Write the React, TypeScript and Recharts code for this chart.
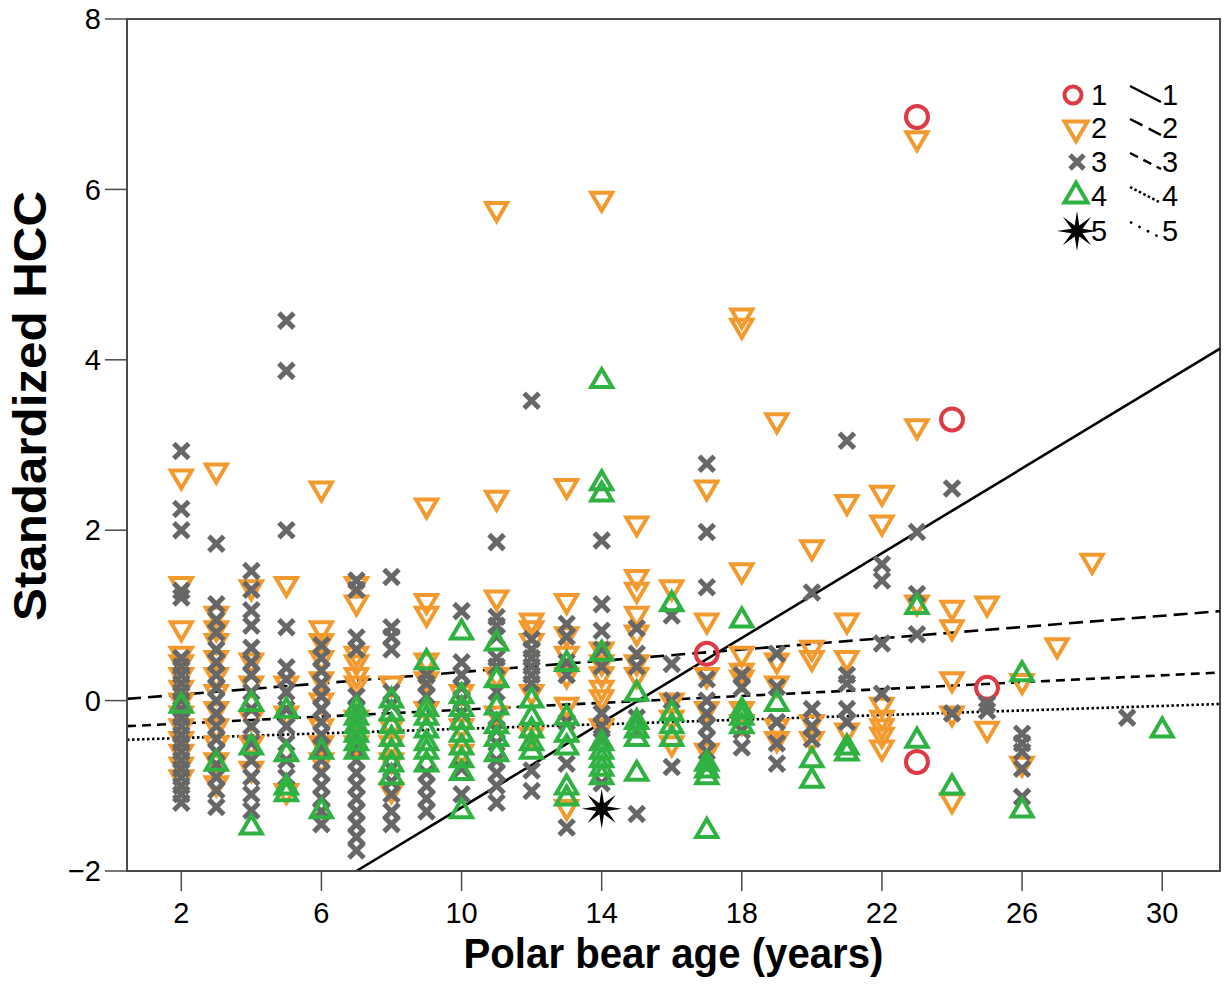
import React from "react";
import { ScatterChart, Scatter, XAxis, YAxis, ReferenceLine, ReferenceArea, Legend } from "recharts";

const FONT = '"Liberation Sans", Arial, Helvetica, sans-serif';

const X_TICKS = [2, 6, 10, 14, 18, 22, 26, 30];
const Y_TICKS = [-2, 0, 2, 4, 6, 8];
const X_DOMAIN = [0.45, 31.65];
const Y_DOMAIN = [-2, 8];

// each row: [age, ...standardized HCC values]
const GROUP1 = [[17, 0.55], [23, 6.85, -0.72], [24, 3.3], [25, 0.15]];

const GROUP2 = [
  [2, 2.63, 1.37, 0.85, 0.55, 0.45, 0.3, 0.15, 0.0, -0.15, -0.3, -0.45, -0.6, -0.75, -0.9],
  [3, 2.7, 1.02, 0.85, 0.7, 0.5, 0.3, 0.1, -0.1, -0.3, -0.5, -0.7, -0.97],
  [4, 1.33, 0.47, 0.2, -0.2, -0.5, -0.8],
  [5, 1.37, 0.2, -0.15, -1.06],
  [6, 2.49, 0.85, 0.7, 0.5, 0.25, 0.0, -0.3, -0.5, -0.7],
  [7, 1.37, 1.15, 0.55, 0.45, 0.3, 0.2, -0.2, -0.5],
  [8, 0.2, -0.3, -0.5, -0.7, -1.05],
  [9, 2.29, 1.17, 1.02, 0.47, 0.25, -0.1],
  [10, 0.1, -0.3, -0.6],
  [11, 5.77, 2.38, 1.21, 0.3, -0.15],
  [12, 0.94, 0.85, 0.7, 0.1, -0.4],
  [13, 2.52, 1.17, 0.78, 0.55, 0.3, -0.05, -1.25],
  [14, 5.89, 0.6, 0.45, 0.31, 0.15, 0.04, -0.3],
  [15, 2.08, 1.45, 1.3, 1.02, 0.8, 0.45, 0.3],
  [16, 1.33, 0.0, -0.2, -0.5],
  [17, 2.5, 0.94, 0.3, -0.1, -0.59],
  [18, 4.52, 4.4, 1.53, 0.55, 0.35, 0.27, -0.1, -0.25],
  [19, 3.29, 0.47, 0.2, -0.3, -0.45],
  [20, 1.8, 0.62, 0.5, -0.25, -0.45],
  [21, 2.33, 0.94, 0.5, -0.35],
  [22, 2.44, 2.09, -0.05, -0.2, -0.3, -0.4, -0.55],
  [23, 6.6, 3.22, 1.15],
  [24, 1.09, 0.86, 0.25, -0.15, -1.17],
  [25, 1.14, -0.33],
  [26, 0.23, -0.74],
  [27, 0.65],
  [28, 1.64],
];

const GROUP3 = [
  [2, 2.93, 2.25, 2.0, 1.29, 1.21, 0.5, 0.4, 0.3, 0.2, 0.1, 0.0, -0.1, -0.2, -0.3, -0.4, -0.5, -0.6, -0.7, -0.8, -0.9, -1.0, -1.1, -1.2],
  [3, 1.84, 1.13, 0.95, 0.8, 0.6, 0.45, 0.3, 0.15, 0.0, -0.15, -0.3, -0.45, -0.6, -0.75, -0.9, -1.05, -1.25],
  [4, 1.52, 1.3, 1.06, 0.88, 0.62, 0.45, 0.3, 0.1, -0.1, -0.3, -0.5, -0.7, -0.9, -1.1, -1.29],
  [5, 4.46, 3.87, 2.0, 0.86, 0.39, 0.25, 0.1, -0.1, -0.3, -0.5, -0.7, -0.9],
  [6, 0.65, 0.5, 0.35, 0.2, 0.05, -0.1, -0.25, -0.4, -0.55, -0.7, -0.85, -1.0, -1.15, -1.3, -1.45],
  [7, 1.41, 1.3, 0.74, 0.6, 0.05, -0.1, -0.25, -0.4, -0.55, -0.7, -0.85, -1.0, -1.15, -1.3, -1.45, -1.6, -1.76],
  [8, 1.45, 0.86, 0.75, 0.6, 0.1, -0.05, -0.8, -0.95, -1.1, -1.3, -1.45],
  [9, 0.3, 0.2, 0.05, -0.85, -1.0, -1.15, -1.3],
  [10, 1.05, 0.45, 0.3, 0.15, 0.0, -0.15, -0.8, -1.1],
  [11, 1.86, 0.98, 0.88, 0.75, 0.5, 0.4, 0.1, -0.2, -0.35, -0.5, -0.7, -0.85, -1.0, -1.2],
  [12, 3.52, 0.72, 0.6, 0.5, 0.4, 0.3, 0.2, -0.82, -1.06],
  [13, 0.9, 0.75, 0.45, 0.3, -0.25, -0.74, -1.49],
  [14, 1.88, 1.13, 0.82, 0.6, 0.4, -0.15, -0.3, -0.47, -0.97],
  [15, 0.85, 0.55, 0.4, -0.2, -0.35, -1.33],
  [16, 1.0, 0.43, 0.0, -0.78],
  [17, 2.78, 1.98, 1.33, 0.25, 0.0, -0.15, -0.3, -0.45, -0.6],
  [18, 0.3, 0.15, -0.35, -0.55],
  [19, 0.55, 0.16, -0.25, -0.5, -0.74],
  [20, 1.27, -0.1, -0.3, -0.45],
  [21, 3.05, 0.3, 0.2, -0.1, -0.25],
  [22, 1.6, 1.41, 0.67, 0.08],
  [23, 1.98, 1.25, 0.78],
  [24, 2.49, -0.15],
  [25, -0.04, -0.12],
  [26, -0.39, -0.5, -0.6, -0.8, -1.13],
  [29, -0.2],
];

const GROUP4 = [
  [2, -0.06],
  [3, -0.74],
  [4, -0.04, -0.55, -1.49],
  [5, -0.12, -0.63, -1.02, -1.1],
  [6, -0.6, -1.3],
  [7, -0.1, -0.2, -0.3, -0.4, -0.5, -0.6],
  [8, 0.0, -0.15, -0.3, -0.45, -0.6, -0.75, -0.9],
  [9, 0.45, -0.1, -0.2, -0.35, -0.5, -0.6, -0.75],
  [10, 0.8, 0.05, -0.1, -0.25, -0.4, -0.55, -0.7, -0.85, -1.3],
  [11, 0.67, 0.24, -0.08, -0.3, -0.45, -0.63],
  [12, 0.0, -0.2, -0.35, -0.5, -0.6],
  [13, 0.43, -0.2, -0.4, -0.55, -1.02, -1.15],
  [14, 3.75, 2.55, 2.42, 0.55, -0.5, -0.6, -0.7, -0.8, -0.9],
  [15, 0.08, -0.25, -0.35, -0.45, -0.86],
  [16, 1.13, -0.15, -0.3, -0.45],
  [17, -0.74, -0.82, -0.9, -1.53],
  [18, 0.94, -0.12, -0.2, -0.3],
  [19, -0.04],
  [20, -0.7, -0.94],
  [21, -0.55, -0.62],
  [23, 1.1, -0.47],
  [24, -1.02],
  [26, 0.31, -1.29],
  [30, -0.35],
];

const GROUP5 = [[14, -1.27]];

// regression lines per group: [age, hcc] at both ends
const FIT1 = [[7, -2.0], [31.65, 4.13]];
const FIT2 = [[0.45, 0.02], [31.65, 1.05]];
const FIT3 = [[0.45, -0.3], [31.65, 0.33]];
const FIT4 = [[0.45, -0.46], [31.65, -0.04]];

const LEGEND_KEYS = ["1", "2", "3", "4", "5"];

const RED = "#dd3a46";
const ORANGE = "#f29a2e";
const GRAY = "#676767";
const GREEN = "#2fb242";
const AXIS = "#4a4a4a";

const toPoints = (rows: number[][]) =>
  rows.flatMap(([age, ...vals]) => vals.map((hcc) => ({ age, hcc })));

const seg = (f: number[][]) => f.map(([x, y]) => ({ x, y }));

function Ring({ cx, cy, r = 11, w = 4 }: any) {
  return <circle cx={cx} cy={cy} r={r} fill="none" stroke={RED} strokeWidth={w} />;
}

function DownTri({ cx, cy, s = 1 }: any) {
  const hw = 10.5 * s, t = 6 * s, b = 12 * s;
  return (
    <polygon
      points={`${cx - hw},${cy - t} ${cx + hw},${cy - t} ${cx},${cy + b}`}
      fill="none" stroke={ORANGE} strokeWidth={4} strokeLinejoin="miter"
    />
  );
}

function UpTri({ cx, cy, s = 1 }: any) {
  const hw = 10.5 * s, t = 6 * s, b = 12 * s;
  return (
    <polygon
      points={`${cx - hw},${cy + t} ${cx + hw},${cy + t} ${cx},${cy - b}`}
      fill="none" stroke={GREEN} strokeWidth={4} strokeLinejoin="miter"
    />
  );
}

function Cross({ cx, cy, a = 7.5 }: any) {
  return (
    <g stroke={GRAY} strokeWidth={5}>
      <line x1={cx - a} y1={cy - a} x2={cx + a} y2={cy + a} />
      <line x1={cx - a} y1={cy + a} x2={cx + a} y2={cy - a} />
    </g>
  );
}

function Star({ cx, cy, R = 20, r = 6 }: any) {
  const pts: string[] = [];
  for (let i = 0; i < 16; i++) {
    const ang = (Math.PI * i) / 8 - Math.PI / 2;
    const rad = i % 2 === 0 ? R : r;
    pts.push(`${cx + rad * Math.cos(ang)},${cy + rad * Math.sin(ang)}`);
  }
  return <polygon points={pts.join(" ")} fill="#000" />;
}

const FIT_STYLE: Record<string, string | undefined> = {
  "1": undefined,
  "2": "14 7",
  "3": "9 6",
  "4": "2.5 2.5",
  "5": "2.5 7",
};

function XTitle({ viewBox }: any) {
  const { x, y, width } = viewBox;
  return (
    <text x={x + width / 2} y={y + 97} textAnchor="middle" fontFamily={FONT}
      fontWeight="bold" fontSize={43} textLength={420} lengthAdjust="spacingAndGlyphs" fill="#000">
      Polar bear age (years)
    </text>
  );
}

function YTitle({ viewBox }: any) {
  const { x, y, height } = viewBox;
  const px = x + 46;
  const py = y + height / 2 - 39;
  return (
    <text x={px} y={py} transform={`rotate(-90, ${px}, ${py})`} textAnchor="middle"
      fontFamily={FONT} fontWeight="bold" fontSize={46} textLength={430}
      lengthAdjust="spacingAndGlyphs" fill="#000">
      Standardized HCC
    </text>
  );
}

function LegendBox() {
  const rowY = [35, 68, 102, 136, 171];
  const markers = [
    (y: number) => <Ring cx={33} cy={y} r={8.5} w={4} />,
    (y: number) => <DownTri cx={36} cy={y} s={1.1} />,
    (y: number) => <Cross cx={37} cy={y} a={7} />,
    (y: number) => <UpTri cx={36} cy={y} s={1.1} />,
    (y: number) => <Star cx={37} cy={y} R={20} r={6} />,
  ];
  return (
    <svg width={180} height={200} style={{ overflow: "visible" }}>
      {LEGEND_KEYS.map((k, i) => {
        const y = rowY[i];
        return (
          <g key={k}>
            {markers[i](y)}
            <text x={51} y={y + 10} fontFamily={FONT} fontSize={29} fill="#000">{k}</text>
            <line x1={90} y1={y - 9} x2={121} y2={y + 7} stroke="#000" strokeWidth={2.5}
              strokeDasharray={FIT_STYLE[k]} />
            <text x={122} y={y + 10} fontFamily={FONT} fontSize={29} fill="#000">{k}</text>
          </g>
        );
      })}
    </svg>
  );
}

export default function App() {
  const tickStyle = { fontFamily: FONT, fontSize: 29, fill: "#000" };
  const fits = [FIT1, FIT2, FIT3, FIT4];
  return (
    <div style={{ position: "absolute", left: 0, top: 0, width: 1225, height: 989, background: "#fff" }}>
      <ScatterChart width={1225} height={989} margin={{ top: 19, right: 5, bottom: 0, left: 0 }}>
        <XAxis
          type="number" dataKey="age" domain={X_DOMAIN} ticks={X_TICKS} allowDataOverflow
          height={118} tickSize={20} tickMargin={11}
          axisLine={{ stroke: AXIS, strokeWidth: 2 }} tickLine={{ stroke: AXIS, strokeWidth: 1.5 }}
          tick={tickStyle} label={<XTitle />}
        />
        <YAxis
          type="number" dataKey="hcc" domain={Y_DOMAIN} ticks={Y_TICKS} allowDataOverflow
          width={127} tickSize={22} tickMargin={4}
          axisLine={{ stroke: AXIS, strokeWidth: 2 }} tickLine={{ stroke: AXIS, strokeWidth: 1.5 }}
          tick={tickStyle} tickFormatter={(v: number) => (v < 0 ? `\u2212${-v}` : `${v}`)}
          label={<YTitle />}
        />
        <ReferenceArea x1={X_DOMAIN[0]} x2={X_DOMAIN[1]} y1={Y_DOMAIN[0]} y2={Y_DOMAIN[1]}
          fill="none" stroke={AXIS} strokeWidth={2} ifOverflow="visible" />
        <Scatter name="1" data={toPoints(GROUP1)} shape={(p: any) => <Ring cx={p.cx} cy={p.cy} />} isAnimationActive={false} />
        <Scatter name="2" data={toPoints(GROUP2)} shape={(p: any) => <DownTri cx={p.cx} cy={p.cy} />} isAnimationActive={false} />
        <Scatter name="3" data={toPoints(GROUP3)} shape={(p: any) => <Cross cx={p.cx} cy={p.cy} />} isAnimationActive={false} />
        <Scatter name="4" data={toPoints(GROUP4)} shape={(p: any) => <UpTri cx={p.cx} cy={p.cy} />} isAnimationActive={false} />
        <Scatter name="5" data={toPoints(GROUP5)} shape={(p: any) => <Star cx={p.cx} cy={p.cy} />} isAnimationActive={false} />
        {fits.map((f, i) => (
          <ReferenceLine key={i} segment={seg(f)} stroke="#000" strokeWidth={2.6}
            strokeDasharray={FIT_STYLE[String(i + 1)]} ifOverflow="visible" />
        ))}
        <Legend
          layout="horizontal" verticalAlign="middle" align="center"
          wrapperStyle={{ left: 1040, top: 60, width: 180, height: 200 }}
          content={() => <LegendBox />}
        />
      </ScatterChart>
    </div>
  );
}
